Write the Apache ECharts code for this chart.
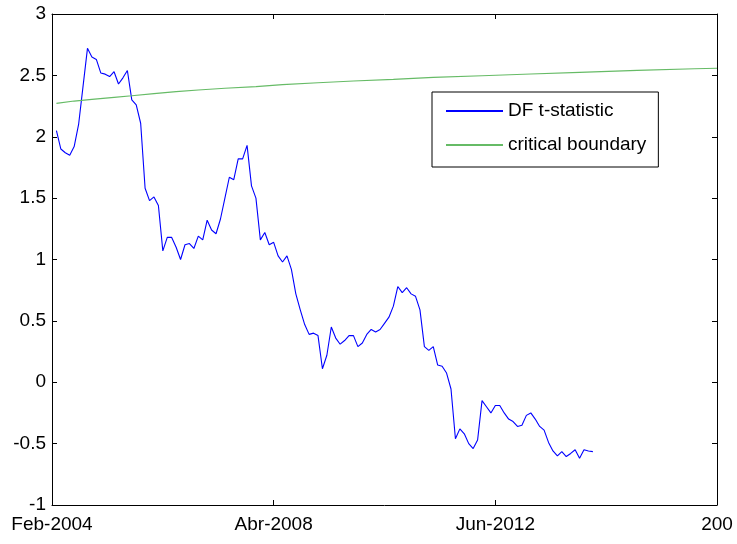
<!DOCTYPE html>
<html>
<head>
<meta charset="utf-8">
<script src="https://cdn.jsdelivr.net/npm/echarts@6/dist/echarts.min.js"></script>
<style>
html,body{margin:0;padding:0;background:#fff;}
#chart{width:737px;height:544px;}
</style>
</head>
<body>
<div id="chart"></div>
<script>
// x ticks (month index from Feb-2004)
const xTickValues = [0, 50, 100, 150];
const xTickLabels = ['Feb-2004', 'Abr-2008', 'Jun-2012', '200'];

// DF t-statistic, monthly, starting at month index 1
const dfStart = 1;
const dfValues = [
  2.05, 1.90, 1.87, 1.85, 1.92, 2.10, 2.41, 2.72, 2.65, 2.63,
  2.52, 2.51, 2.49, 2.53, 2.43, 2.48, 2.54, 2.30, 2.26, 2.11,
  1.58, 1.48, 1.51, 1.44, 1.07, 1.18, 1.18, 1.10, 1.00, 1.12,
  1.13, 1.09, 1.19, 1.16, 1.32, 1.24, 1.21, 1.33, 1.50, 1.67,
  1.65, 1.82, 1.82, 1.93, 1.60, 1.50, 1.16, 1.22, 1.12, 1.14,
  1.03, 0.98, 1.03, 0.92, 0.72, 0.59, 0.47, 0.39, 0.40, 0.38,
  0.11, 0.22, 0.45, 0.36, 0.31, 0.34, 0.38, 0.38, 0.29, 0.32,
  0.39, 0.43, 0.41, 0.43, 0.48, 0.53, 0.62, 0.78, 0.73, 0.77,
  0.72, 0.70, 0.59, 0.29, 0.26, 0.29, 0.14, 0.13, 0.075, -0.055,
  -0.46, -0.38, -0.42, -0.50, -0.54, -0.47, -0.15, -0.20, -0.25, -0.19,
  -0.19, -0.25, -0.30, -0.32, -0.36, -0.35, -0.27, -0.25, -0.30, -0.36,
  -0.39, -0.49, -0.56, -0.60, -0.565, -0.605, -0.58, -0.55, -0.62, -0.55,
  -0.56, -0.565
];

// critical boundary, read at these month indices
const cbMonths = [1, 5, 9, 14, 18, 23, 28, 33, 39, 46, 52, 60, 68, 77, 86, 97, 108, 119, 132, 145, 150];
const cbValues = [2.272, 2.291, 2.305, 2.321, 2.334, 2.351, 2.367, 2.381, 2.395, 2.408, 2.424, 2.440, 2.454, 2.468, 2.484, 2.497, 2.511, 2.525, 2.541, 2.554, 2.558];

const seriesNames = ['DF t-statistic', 'critical boundary'];

const dfData = dfValues.map((v, i) => [dfStart + i, v]);
const cbData = cbMonths.map((m, i) => [m, cbValues[i]]);

const FONT = 'Liberation Sans, Arial, sans-serif';
const chart = echarts.init(document.getElementById('chart'), null, {renderer: 'canvas'});

const axisLineStyle = {show: true, onZero: false, lineStyle: {color: '#000', width: 1}};
const tickStyle = {show: true, inside: true, length: 5, lineStyle: {color: '#000', width: 1}};

chart.setOption({
  animation: false,
  backgroundColor: '#fff',
  grid: {left: 52, right: 20, top: 14, bottom: 39, containLabel: false},
  legend: {
    orient: 'vertical',
    left: 432, top: 92,
    data: seriesNames,
    backgroundColor: '#fff',
    borderColor: '#000',
    borderWidth: 1,
    padding: [9, 12, 12, 13],
    itemWidth: 57,
    itemHeight: 20,
    itemGap: 14,
    itemStyle: {opacity: 0},
    textStyle: {fontFamily: FONT, fontSize: 19, color: '#000', lineHeight: 20}
  },
  xAxis: [{
    type: 'value', min: 0, max: 150, interval: 50,
    axisLine: axisLineStyle, axisTick: tickStyle, splitLine: {show: false},
    axisLabel: {
      margin: 10, fontFamily: FONT, fontSize: 19, color: '#000',
      formatter: v => { const k = xTickValues.indexOf(v); return k >= 0 ? xTickLabels[k] : ''; }
    }
  }, {
    type: 'value', position: 'top', min: 0, max: 150, interval: 50,
    axisLine: axisLineStyle, axisTick: tickStyle, splitLine: {show: false},
    axisLabel: {show: false}
  }],
  yAxis: [{
    type: 'value', min: -1, max: 3, interval: 0.5,
    axisLine: axisLineStyle, axisTick: tickStyle, splitLine: {show: false},
    axisLabel: {margin: 6, fontFamily: FONT, fontSize: 19, color: '#000'}
  }, {
    type: 'value', position: 'right', min: -1, max: 3, interval: 0.5,
    axisLine: axisLineStyle, axisTick: tickStyle, splitLine: {show: false},
    axisLabel: {show: false}
  }],
  series: [{
    name: seriesNames[0], type: 'line', data: dfData,
    symbol: 'none', color: '#0000ff',
    lineStyle: {color: '#0000ff', width: 1.1}
  }, {
    name: seriesNames[1], type: 'line', data: cbData,
    symbol: 'none', color: '#66bb66',
    lineStyle: {color: '#66bb66', width: 1.2}
  }]
});
</script>
</body>
</html>
